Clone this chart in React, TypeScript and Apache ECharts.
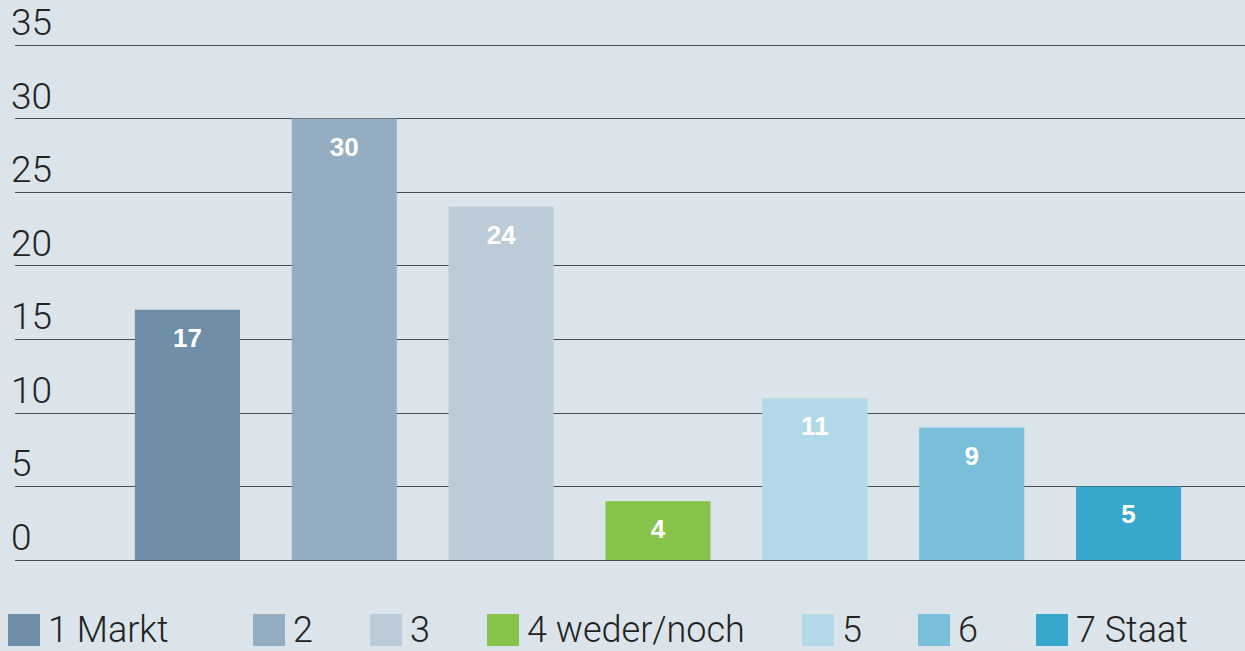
import React, { useEffect, useRef } from "react";
import * as echarts from "echarts";

const categories = ["1 Markt", "2", "3", "4 weder/noch", "5", "6", "7 Staat"];
const values = [17, 30, 24, 4, 11, 9, 5];
const colors = ["#6f8fa8", "#95adc0", "#bccbd8", "#86c34a", "#b3d8e8", "#7abfda", "#37a8cb"];
const legendLefts = [8, 253, 370, 487, 802, 918, 1036];
const yMin = 0;
const yMax = 35;
const yInterval = 5;

const BG = "#dae4ea";
const FONT = "Roboto, 'Liberation Sans', sans-serif";

export default function App() {
  const ref = useRef<HTMLDivElement>(null);
  useEffect(() => {
    if (!ref.current) return;
    const chart = echarts.init(ref.current, undefined, { renderer: "svg" });
    const series = categories.map((name, i) => ({
      name,
      type: "bar",
      xAxisIndex: 1,
      yAxisIndex: 1,
      stack: "all",
      barWidth: "67%",
      itemStyle: { color: colors[i] },
      data: values.map((v, j) => (j === i ? v : "-")),
      label: {
        show: true,
        position: "insideTop",
        distance: 15,
        color: "#ffffff",
        fontSize: 26,
        fontWeight: "bold",
        fontFamily: "'Liberation Sans', Arial, sans-serif",
      },
    }));
    const legends = categories.map((name, i) => ({
      data: [name],
      left: legendLefts[i],
      top: 612,
      itemWidth: 32,
      itemHeight: 32,
      icon: "rect",
      selectedMode: false,
      padding: 0,
      itemGap: 0,
      textStyle: {
        fontSize: 36,
        lineHeight: 34,
        fontWeight: 300,
        color: "#222222",
        fontFamily: FONT,
        padding: [0, 0, 0, 3],
      },
    }));
    chart.setOption({
      animation: false,
      backgroundColor: BG,
      grid: [
        { left: 15, right: 0, top: 45, bottom: 91 },
        { left: 109, right: 38, top: 45, bottom: 91 },
      ],
      xAxis: [
        { type: "value", gridIndex: 0, show: false, min: 0, max: 1 },
        {
          type: "category",
          gridIndex: 1,
          data: categories,
          axisLine: { show: false },
          axisTick: { show: false },
          axisLabel: { show: false },
        },
      ],
      yAxis: [
        {
          type: "value",
          gridIndex: 0,
          min: yMin,
          max: yMax,
          interval: yInterval,
          axisLine: { show: false },
          axisTick: { show: false },
          splitLine: { show: true, lineStyle: { color: "#4d4d4d", width: 1 } },
          axisLabel: {
            inside: true,
            margin: -4,
            verticalAlign: "bottom",
            align: "left",
            fontSize: 37,
            fontWeight: 300,
            color: "#222222",
            fontFamily: FONT,
            padding: [0, 0, 4, 0],
          },
        },
        { type: "value", gridIndex: 1, min: yMin, max: yMax, show: false },
      ],
      legend: legends,
      series,
    });
    return () => chart.dispose();
  }, []);
  return (
    <div
      ref={ref}
      style={{ position: "fixed", left: 0, top: 0, width: 1245, height: 651, background: BG }}
    />
  );
}
